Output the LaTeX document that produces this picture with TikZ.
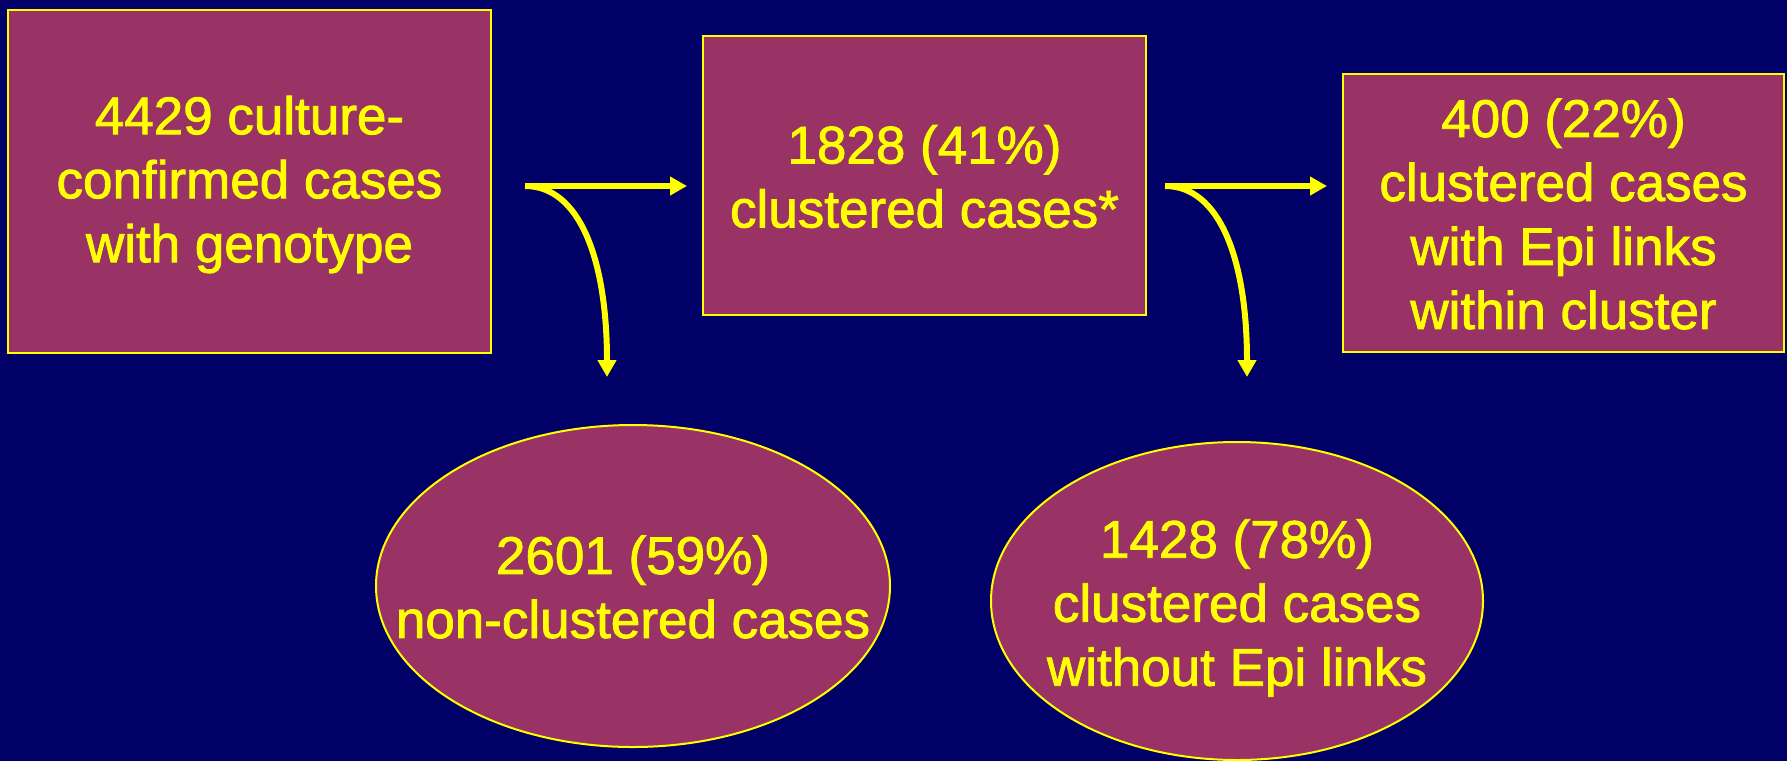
\documentclass[tikz,border=0pt]{standalone}
\usepackage{fontspec}
\setmainfont[FakeBold=1.6]{Liberation Sans}
\usetikzlibrary{arrows.meta,shapes.geometric}
\definecolor{bgnavy}{HTML}{000066}
\definecolor{plum}{HTML}{993366}
\definecolor{yel}{HTML}{FFFF00}
\tikzset{
  shapebase/.style={draw=yel, fill=plum, inner sep=0pt},
  boxnode/.style={shapebase, rectangle, line width=2.6pt},
  ellnode/.style={shapebase, ellipse, line width=2pt},
  lbl/.style={text=yel, align=center, inner sep=0pt,
    font=\fontsize{53}{64}\selectfont},
  flow/.style={draw=yel, line width=6pt, -{Triangle[length=17pt,width=18pt]}}
}
\begin{document}
\begin{tikzpicture}[x=1pt,y=-1pt]
\fill[bgnavy] (0,0) rectangle (1787,761);
\useasboundingbox (0,0) rectangle (1787,761);

\node[boxnode, minimum width=483pt, minimum height=343pt] (b1) at (249.5,181.5) {};
\node[boxnode, minimum width=443pt, minimum height=279pt] (b2) at (924.5,175.5) {};
\node[boxnode, minimum width=441pt, minimum height=278pt] (b3) at (1563.5,213) {};
\node[ellnode, minimum width=514pt, minimum height=322pt] (e1) at (633,586) {};
\node[ellnode, minimum width=492pt, minimum height=318pt] (e2) at (1237,601) {};

\node[lbl] (t1) at ([yshift=-3pt]b1.center) {4429 culture-\\confirmed cases\\with genotype};
\node[lbl] (t2) at ([yshift=-1pt]b2.center) {1828 (41\%)\\clustered cases*};
\node[lbl] (t3) at ([yshift=-1pt]b3.center) {400 (22\%)\\clustered cases\\with Epi links\\within cluster};
\node[lbl] (t4) at ([yshift=-1pt]e1.center) {2601 (59\%)\\non-clustered cases};
\node[lbl] (t5) at ([yshift=-7pt]e2.center) {1428 (78\%)\\clustered cases\hspace*{0.28em}\\without Epi links};

\coordinate (s1) at (525,186);
\coordinate (h1) at (687,186);
\coordinate (d1) at (607,377);
\coordinate (s2) at (1165,186);
\coordinate (h2) at (1327,186);
\coordinate (d2) at (1247,377);

\draw[flow] (s1) -- (h1);
\draw[flow] (s1) .. controls (580,186) and (607,260) .. (d1);
\draw[flow] (s2) -- (h2);
\draw[flow] (s2) .. controls (1220,186) and (1247,260) .. (d2);
\end{tikzpicture}
\end{document}
